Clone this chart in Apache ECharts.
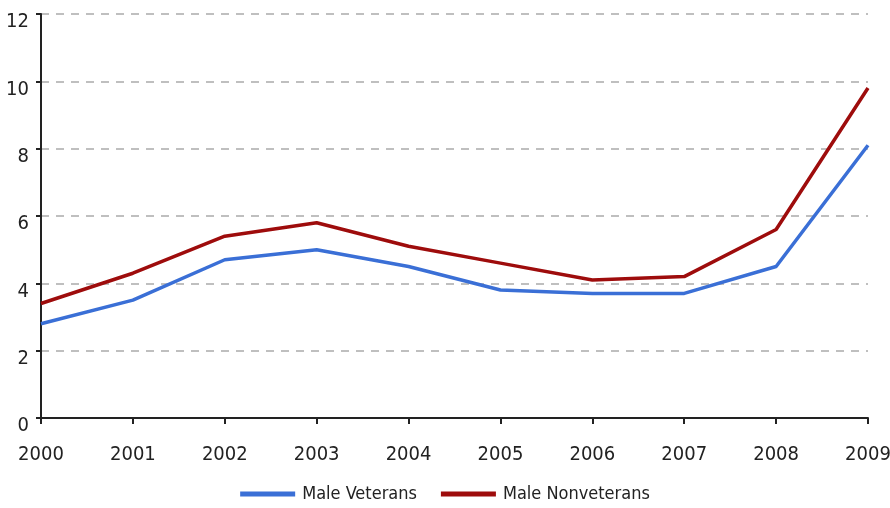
<!DOCTYPE html>
<html><head><meta charset="utf-8">
<script src="https://cdn.jsdelivr.net/npm/echarts@6/dist/echarts.min.js"></script>
<style>html,body{margin:0;padding:0;background:#fff}#c{width:890px;height:508px}</style>
</head><body><div id="c"></div>
<script>
const years = ['2000','2001','2002','2003','2004','2005','2006','2007','2008','2009'];
const maleVeterans = [2.8, 3.5, 4.7, 5.0, 4.5, 3.8, 3.7, 3.7, 4.5, 8.1];
const maleNonveterans = [3.4, 4.3, 5.4, 5.8, 5.1, 4.6, 4.1, 4.2, 5.6, 9.8];
const FONT = '"DejaVu Sans Condensed", "Liberation Sans Narrow", sans-serif';
const chart = echarts.init(document.getElementById('c'));
chart.setOption({
  animation: false,
  grid: {left: 41, right: 22, top: 14, bottom: 90, outerBoundsMode: 'none', containLabel: false},
  legend: {
    bottom: 0, left: 'center', itemWidth: 55, itemHeight: 5, itemGap: 24,
    icon: 'rect',
    textStyle: {fontFamily: FONT, fontSize: 18, color: '#222', padding: [0, 0, 0, 2]},
    data: ['Male Veterans', 'Male Nonveterans']
  },
  xAxis: {
    type: 'category', data: years, boundaryGap: false,
    axisLine: {lineStyle: {color: '#222', width: 2}},
    axisTick: {alignWithLabel: true, length: 6, lineStyle: {color: '#222', width: 2}},
    axisLabel: {fontFamily: FONT, fontSize: 20, color: '#222', margin: 27}
  },
  yAxis: {
    type: 'value', min: 0, max: 12, interval: 2,
    axisLine: {show: true, lineStyle: {color: '#222', width: 2}},
    axisTick: {show: true, length: 5, lineStyle: {color: '#222', width: 2}},
    axisLabel: {fontFamily: FONT, fontSize: 20, color: '#222', margin: 12, verticalAlign: 'top', lineHeight: 16},
    splitLine: {show: true, lineStyle: {color: '#aaa', type: [8, 7], width: 1.5}}
  },
  series: [
    {name: 'Male Veterans', type: 'line', data: maleVeterans, symbol: 'none',
     lineStyle: {color: '#3a6fd6', width: 3.5}, itemStyle: {color: '#3a6fd6'}},
    {name: 'Male Nonveterans', type: 'line', data: maleNonveterans, symbol: 'none',
     lineStyle: {color: '#9e0c0c', width: 3.5}, itemStyle: {color: '#9e0c0c'}}
  ]
});
</script></body></html>
